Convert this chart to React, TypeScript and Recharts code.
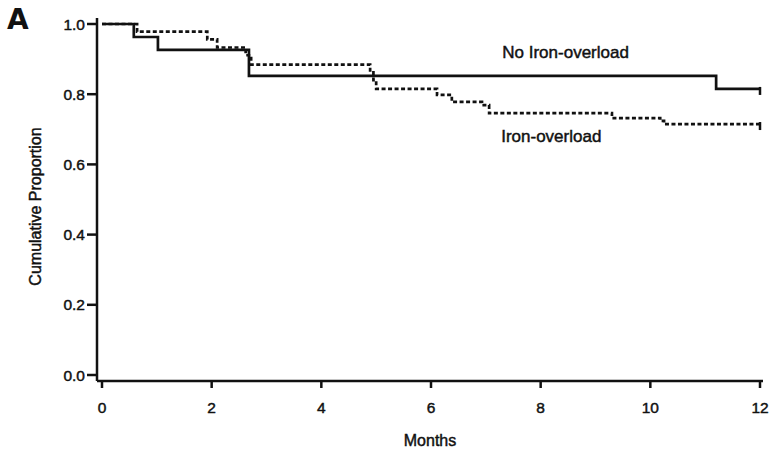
import { LineChart, Line, XAxis, YAxis, ReferenceDot } from 'recharts';

const monthTicks = [0, 2, 4, 6, 8, 10, 12];
const propTicks = [0, 0.2, 0.4, 0.6, 0.8, 1.0];

// No Iron-overload (solid)
const noIronMonths = [0, 0.58, 1.02, 2.68, 11.2, 12];
const noIronProp = [1, 0.963, 0.926, 0.852, 0.815, 0.815];

// Iron-overload (dashed)
const ironMonths = [0, 0.64, 1.92, 2.1, 2.62, 2.72, 4.89, 4.95, 5.0, 6.11, 6.38, 6.93, 7.06, 9.3, 10.18, 10.25, 12];
const ironProp = [1, 0.978, 0.956, 0.933, 0.911, 0.884, 0.862, 0.84, 0.815, 0.798, 0.778, 0.769, 0.746, 0.732, 0.724, 0.715, 0.715];

const noIronData = noIronMonths.map((m, i) => ({ m, p: noIronProp[i] }));
const ironData = ironMonths.map((m, i) => ({ m, p: ironProp[i] }));

const font = 'Liberation Sans, Arial, sans-serif';
const ink = '#111';
// text in the scan is a bit heavier than a normal weight
const heavy = { fill: ink, stroke: ink, strokeWidth: 0.45 };

// censor tick only at the last point
const endTick = (len: number) => (props: any) => {
  const { cx, cy, index, key } = props;
  if (index !== len - 1) return <g key={key} />;
  return <line key={key} x1={cx} x2={cx} y1={cy - 2} y2={cy + 6} stroke={ink} strokeWidth={2.5} />;
};

const annot = (text: string) => (props: any) => (
  <text x={props.cx} y={props.cy} fontFamily={font} fontSize={17} {...heavy}>
    {text}
  </text>
);

export default function App() {
  return (
    <div style={{ position: 'absolute', top: 0, left: 0, width: 776, height: 454, background: '#fff' }}>
      <div style={{ position: 'absolute', left: 7, top: 3, fontFamily: 'DejaVu Sans, sans-serif', fontWeight: 'bold', fontSize: 28, color: ink }}>A</div>
      <LineChart width={776} height={454} margin={{ top: 18, right: 13, left: 0, bottom: 0 }}>
        <XAxis
          type="number"
          dataKey="m"
          domain={[0, 12]}
          ticks={monthTicks}
          padding={{ left: 5, right: 3 }}
          height={73}
          tickSize={7}
          tickMargin={14}
          stroke={ink}
          axisLine={{ stroke: ink, strokeWidth: 2.5 }}
          tickLine={{ stroke: ink, strokeWidth: 2.5 }}
          tick={{ ...heavy, fontSize: 15.5, fontFamily: font }}
          label={{ value: 'Months', position: 'insideBottom', offset: 8, ...heavy, fontSize: 16, fontFamily: font }}
        />
        <YAxis
          type="number"
          domain={[0, 1]}
          ticks={propTicks}
          padding={{ top: 6, bottom: 6 }}
          width={97}
          tickSize={10}
          tickMargin={2}
          tickFormatter={(v) => Number(v).toFixed(1)}
          axisLine={{ stroke: ink, strokeWidth: 2.5 }}
          tickLine={{ stroke: ink, strokeWidth: 2.5 }}
          tick={{ ...heavy, fontSize: 15.5, fontFamily: font }}
          label={{ value: 'Cumulative Proportion', angle: -90, position: 'center', dx: -13, dy: 7, ...heavy, fontSize: 16, fontFamily: font }}
        />
        <Line
          data={noIronData}
          dataKey="p"
          type="stepAfter"
          stroke={ink}
          strokeWidth={2.7}
          dot={endTick(noIronData.length)}
          activeDot={false}
          isAnimationActive={false}
        />
        <Line
          data={ironData}
          dataKey="p"
          type="stepAfter"
          stroke={ink}
          strokeWidth={2.7}
          strokeDasharray="4 2.5"
          dot={endTick(ironData.length)}
          activeDot={false}
          isAnimationActive={false}
        />
        <ReferenceDot x={7.3} y={0.903} r={0} shape={annot('No Iron-overload')} />
        <ReferenceDot x={7.28} y={0.664} r={0} shape={annot('Iron-overload')} />
      </LineChart>
    </div>
  );
}
